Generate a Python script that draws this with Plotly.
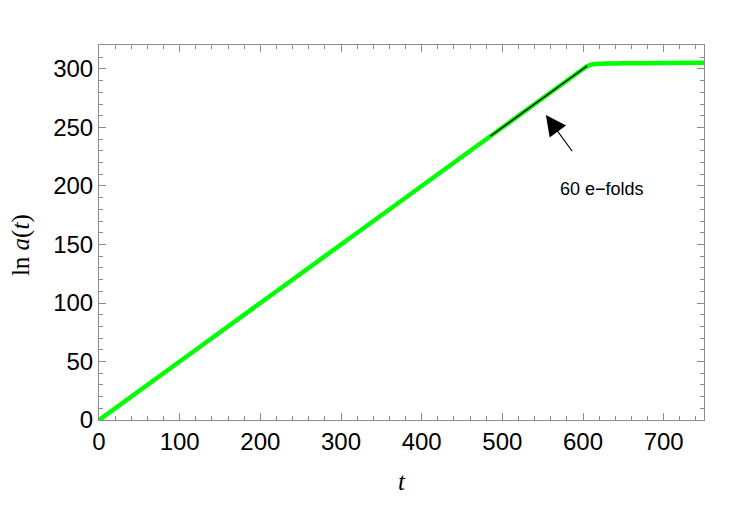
import plotly.graph_objects as go

# Green curve: ln a(t)
t_vals = [0, 100, 200, 300, 400, 500, 600, 605, 610, 615, 620, 630, 650, 700, 750]
lna_vals = [0, 50, 100, 150, 200, 250, 300, 302.3, 303.6, 304.2, 304.4, 304.6, 304.8, 305.1, 305.4]

# Black segment: last 60 e-folds
efold_t = [485, 605]
efold_lna = [242.5, 302.5]

x_ticks = [0, 100, 200, 300, 400, 500, 600, 700]
y_ticks = [0, 50, 100, 150, 200, 250, 300]

fig = go.Figure()
fig.add_trace(go.Scatter(x=t_vals, y=lna_vals, mode="lines",
                         line=dict(color="#00ff00", width=4.5, shape="spline", smoothing=0.6),
                         hoverinfo="skip", showlegend=False))
fig.add_trace(go.Scatter(x=efold_t, y=efold_lna, mode="lines",
                         line=dict(color="black", width=1.3),
                         hoverinfo="skip", showlegend=False))

axis_common = dict(
    showgrid=False, zeroline=False, showline=True, linecolor="#8c8c8c", linewidth=1,
    mirror="allticks", ticks="inside", ticklen=7, tickcolor="#8c8c8c", tickwidth=1,
    tickfont=dict(family="Liberation Sans, Arial, sans-serif", size=24, color="black"),
)
fig.update_xaxes(range=[0, 750], tickvals=x_ticks,
                 minor=dict(ticks="inside", dtick=20, tick0=0, ticklen=4, tickcolor="#8c8c8c"),
                 **axis_common)
fig.update_yaxes(range=[0, 320.5], tickvals=y_ticks,
                 minor=dict(ticks="inside", dtick=10, tick0=0, ticklen=4, tickcolor="#8c8c8c"),
                 **axis_common)

fig.add_annotation(x=554, y=260.6, ax=588, ay=228.4, xref="x", yref="y", axref="x", ayref="y",
                   showarrow=True, arrowhead=2, arrowsize=3.4, arrowwidth=1.2, arrowcolor="black", text="")
fig.add_annotation(x=623, y=197.4, xref="x", yref="y", text="60 e\u2212folds", showarrow=False,
                   font=dict(family="Liberation Sans, Arial, sans-serif", size=18, color="black"))

fig.add_annotation(x=0.5, y=-0.205, xref="paper", yref="paper", text="<i>t</i>", showarrow=False,
                   font=dict(family="Liberation Serif, DejaVu Serif, serif", size=25, color="black"))
fig.add_annotation(x=-0.155, y=0.467, xref="paper", yref="paper", text="ln <i>a</i>(<i>t</i>)",
                   textangle=-90, showarrow=False,
                   font=dict(family="Liberation Serif, DejaVu Serif, serif", size=25, color="black"))

fig.update_layout(width=750, height=505, margin=dict(l=99, r=46, t=45, b=85),
                  plot_bgcolor="white", paper_bgcolor="white")
fig.write_html("out.html")
